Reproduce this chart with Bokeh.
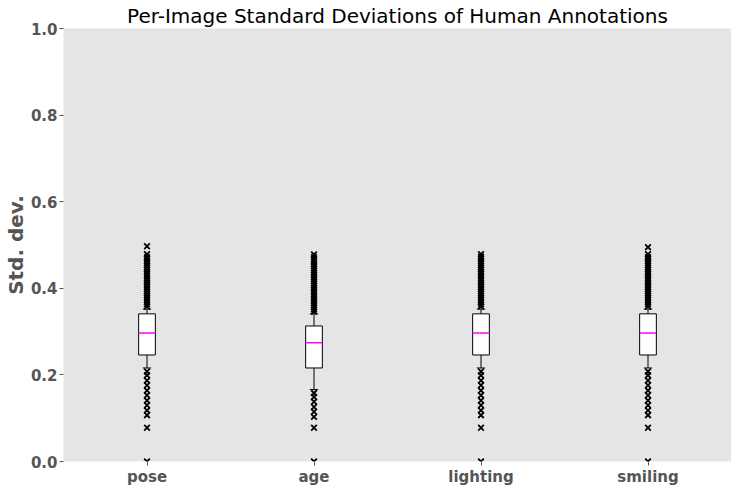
from bokeh.plotting import figure
from bokeh.models import FactorRange, Range1d, FixedTicker, NumeralTickFormatter, ColumnDataSource
from bokeh.transform import dodge
from bokeh.embed import file_html
from bokeh.resources import INLINE

categories = ["pose", "age", "lighting", "smiling"]
q1 = [0.246, 0.216, 0.246, 0.246]
median = [0.297, 0.274, 0.297, 0.297]
q3 = [0.341, 0.313, 0.341, 0.341]
whisk_lo = [0.216, 0.166, 0.216, 0.216]
whisk_hi = [0.352, 0.341, 0.352, 0.352]

pose_out = [0.358, 0.363, 0.368, 0.373, 0.378, 0.383, 0.388, 0.393, 0.398, 0.403, 0.408,
            0.413, 0.418, 0.423, 0.428, 0.433, 0.438, 0.443, 0.448, 0.453, 0.458, 0.463,
            0.468, 0.472, 0.479, 0.497,
            0.208, 0.199, 0.187, 0.176, 0.164, 0.153, 0.141, 0.130, 0.118, 0.107, 0.078, 0.0]
age_out = [0.346, 0.351, 0.356, 0.361, 0.366, 0.371, 0.376, 0.381, 0.386, 0.391, 0.396,
           0.401, 0.406, 0.411, 0.416, 0.421, 0.426, 0.431, 0.436, 0.441, 0.446, 0.451,
           0.456, 0.461, 0.466, 0.472, 0.478,
           0.158, 0.149, 0.138, 0.126, 0.115, 0.103, 0.078, 0.0]
lighting_out = [0.358, 0.363, 0.368, 0.373, 0.378, 0.383, 0.388, 0.393, 0.398, 0.403, 0.408,
                0.413, 0.418, 0.423, 0.428, 0.433, 0.438, 0.443, 0.448, 0.453, 0.458, 0.463,
                0.468, 0.473, 0.479,
                0.208, 0.199, 0.187, 0.176, 0.164, 0.153, 0.141, 0.130, 0.118, 0.107, 0.078, 0.0]
smiling_out = [0.358, 0.363, 0.368, 0.373, 0.378, 0.383, 0.388, 0.393, 0.398, 0.403, 0.408,
               0.413, 0.418, 0.423, 0.428, 0.433, 0.438, 0.443, 0.448, 0.453, 0.458, 0.463,
               0.468, 0.472, 0.479, 0.495,
               0.208, 0.199, 0.187, 0.176, 0.164, 0.153, 0.141, 0.130, 0.118, 0.107, 0.078, 0.0]
outliers = [pose_out, age_out, lighting_out, smiling_out]

y_ticks = [0.0, 0.2, 0.4, 0.6, 0.8, 1.0]

FONT = "DejaVu Sans"
GRAY = "#555555"

p = figure(x_range=FactorRange(*categories, range_padding=0), y_range=Range1d(0, 1),
           frame_width=668, frame_height=433, output_backend="svg", toolbar_location=None,
           title="Per-Image Standard Deviations of Human Annotations",
           min_border_left=0, min_border_right=0, min_border_top=0, min_border_bottom=0)
p.background_fill_color = "#e5e5e5"
p.border_fill_color = "white"
p.outline_line_color = None
p.grid.visible = False

p.title.text_font = FONT
p.title.text_font_size = "20px"
p.title.text_font_style = "normal"
p.title.text_color = "black"
p.title.align = "center"
p.title.standoff = 2

for ax in (p.xaxis[0], p.yaxis[0]):
    ax.axis_line_color = None
    ax.major_tick_in = 0
    ax.major_tick_out = 4
    ax.major_tick_line_color = GRAY
    ax.minor_tick_line_color = None
    ax.major_label_text_font = FONT
    ax.major_label_text_font_size = "15px"
    ax.major_label_text_font_style = "bold"
    ax.major_label_text_color = GRAY
    ax.major_label_standoff = 2

p.yaxis.ticker = FixedTicker(ticks=y_ticks)
p.yaxis.formatter = NumeralTickFormatter(format="0.0")
p.yaxis.axis_label = "Std. dev."
p.yaxis.axis_label_text_font = FONT
p.yaxis.axis_label_text_font_size = "20px"
p.yaxis.axis_label_text_font_style = "bold"
p.yaxis.axis_label_text_color = GRAY
p.yaxis.axis_label_standoff = 0

src = ColumnDataSource(dict(cat=categories, q1=q1, median=median, q3=q3,
                            lo=whisk_lo, hi=whisk_hi))

# whiskers
p.segment(x0="cat", y0="q3", x1="cat", y1="hi", source=src, line_color="black", line_width=1)
p.segment(x0="cat", y0="q1", x1="cat", y1="lo", source=src, line_color="black", line_width=1)
# caps
left_cap = dodge("cat", -0.025, range=p.x_range)
right_cap = dodge("cat", 0.025, range=p.x_range)
p.segment(x0=left_cap, y0="hi", x1=right_cap, y1="hi", source=src, line_color="black", line_width=1)
p.segment(x0=left_cap, y0="lo", x1=right_cap, y1="lo", source=src, line_color="black", line_width=1)
# boxes
p.vbar(x="cat", bottom="q1", top="q3", width=0.1, source=src,
       fill_color="white", line_color="black", line_width=1)
# medians
left_b = dodge("cat", -0.05, range=p.x_range)
right_b = dodge("cat", 0.05, range=p.x_range)
p.segment(x0=left_b, y0="median", x1=right_b, y1="median", source=src,
          line_color="#ff00ff", line_width=1.5)

# outliers
ox, oy = [], []
for c, vals in zip(categories, outliers):
    for v in vals:
        ox.append(c)
        oy.append(v)
p.scatter(x=ox, y=oy, marker="x", size=8, line_color="black", line_width=1.8)

open("out.html", "w").write(file_html(p, INLINE))
